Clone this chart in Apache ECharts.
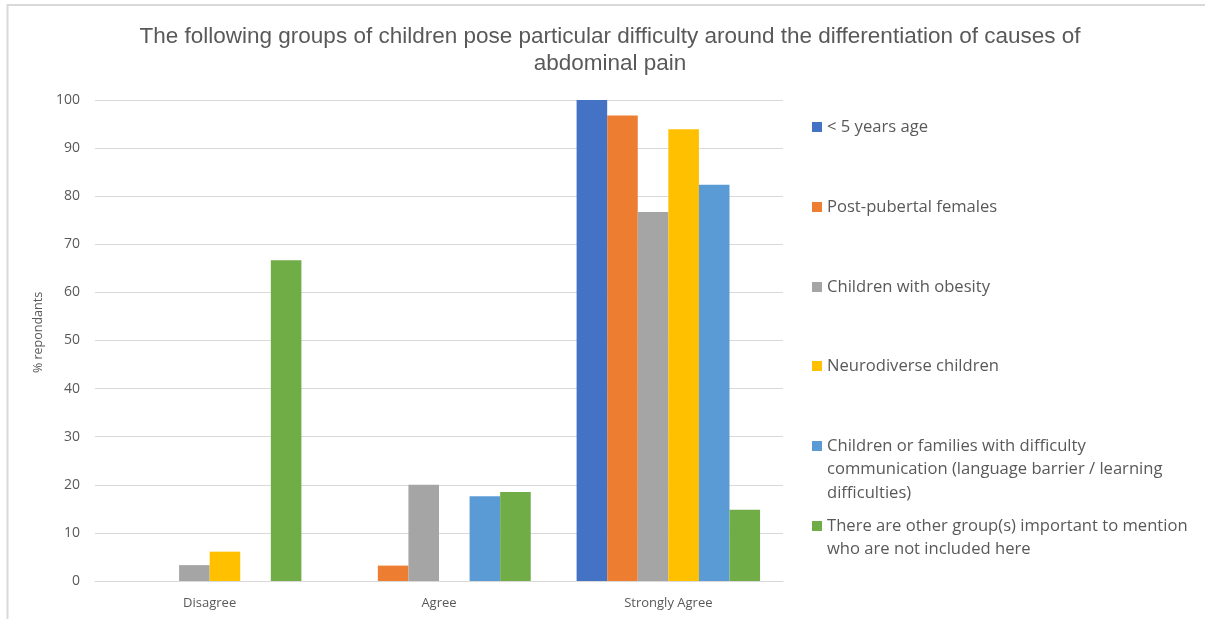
<!DOCTYPE html>
<html>
<head>
<meta charset="utf-8">
<script src="https://cdn.jsdelivr.net/npm/echarts@6/dist/echarts.min.js"></script>
<style>html,body{margin:0;padding:0;background:#fff;}#chart{width:1205px;height:619px;}</style>
</head>
<body>
<div id="chart"></div>
<script>
const titleText = 'The following groups of children pose particular difficulty around the differentiation of causes of\nabdominal pain';
const categories = ['Disagree', 'Agree', 'Strongly Agree'];
const seriesNames = [
  '< 5 years age',
  'Post-pubertal females',
  'Children with obesity',
  'Neurodiverse children',
  'Children or families with difficulty\ncommunication (language barrier / learning\ndifficulties)',
  'There are other group(s) important to mention\nwho are not included here'
];
const under5 = [0, 0, 100];
const postPubertal = [0, 3.2, 96.8];
const obesity = [3.3, 20, 76.7];
const neurodiverse = [6.1, 0, 93.9];
const communication = [0, 17.6, 82.4];
const otherGroups = [66.7, 18.5, 14.8];
const yTicks = [0, 10, 20, 30, 40, 50, 60, 70, 80, 90, 100];
const yAxisName = '% repondants';

const colors = ['#4472C4', '#ED7D31', '#A5A5A5', '#FFC000', '#5B9BD5', '#70AD47'];
const values = [under5, postPubertal, obesity, neurodiverse, communication, otherGroups];
const markerY = [127, 207, 287, 366, 446, 526];
const LH = 23.5;
const FONT = "'Liberation Sans Narrow', 'Liberation Sans', sans-serif";

const legends = seriesNames.map((name, i) => {
  const n = name.split('\n').length;
  const boxH = LH * (2 * n - 1);
  return {
    orient: 'vertical',
    left: 812,
    top: markerY[i] - boxH / 2,
    padding: 0,
    itemWidth: 10,
    itemHeight: 10,
    itemGap: 0,
    icon: 'rect',
    data: [name],
    formatter: nm => '\n'.repeat(nm.split('\n').length - 1) + nm,
    textStyle: { fontSize: 16.6, color: '#595959', lineHeight: LH, fontFamily: "'Open Sans', sans-serif" }
  };
});

const chart = echarts.init(document.getElementById('chart'));
chart.setOption({
  animation: false,
  backgroundColor: '#fff',
  title: {
    text: titleText,
    left: 605,
    textAlign: 'center',
    top: 18,
    textStyle: { fontSize: 22.5, fontWeight: 'normal', color: '#595959', lineHeight: 27, fontFamily: FONT }
  },
  legend: legends,
  grid: { left: 95, right: 422, top: 100, bottom: 38 },
  xAxis: {
    type: 'category',
    data: categories,
    axisLine: { lineStyle: { color: '#d9d9d9', width: 1 } },
    axisTick: { show: false },
    axisLabel: { color: '#595959', fontSize: 13, margin: 16, fontFamily: "'Open Sans', sans-serif" }
  },
  yAxis: {
    type: 'value',
    min: 0, max: 100, interval: 10,
    name: yAxisName,
    nameLocation: 'middle',
    nameGap: 44,
    nameRotate: 90,
    nameTextStyle: { color: '#595959', fontSize: 12.5, fontFamily: "'Open Sans', sans-serif", padding: [0, 0, 0, 16] },
    axisLine: { show: false },
    axisTick: { show: false },
    splitLine: { lineStyle: { color: '#d9d9d9', width: 1 } },
    axisLabel: { color: '#595959', fontSize: 14, margin: 15, fontFamily: "'Open Sans', sans-serif",
      formatter: v => yTicks.includes(v) ? String(v) : '' }
  },
  series: seriesNames.map((name, i) => ({
    name: name,
    type: 'bar',
    data: values[i],
    barGap: '0%',
    barCategoryGap: '20%',
    itemStyle: { color: colors[i] }
  })),
  graphic: [
    { type: 'line', shape: { x1: 7, y1: 5, x2: 1205, y2: 5 }, style: { stroke: '#d9d9d9', lineWidth: 2 }, silent: true },
    { type: 'line', shape: { x1: 7.5, y1: 4, x2: 7.5, y2: 619 }, style: { stroke: '#d9d9d9', lineWidth: 2 }, silent: true }
  ]
});
</script>
</body>
</html>
